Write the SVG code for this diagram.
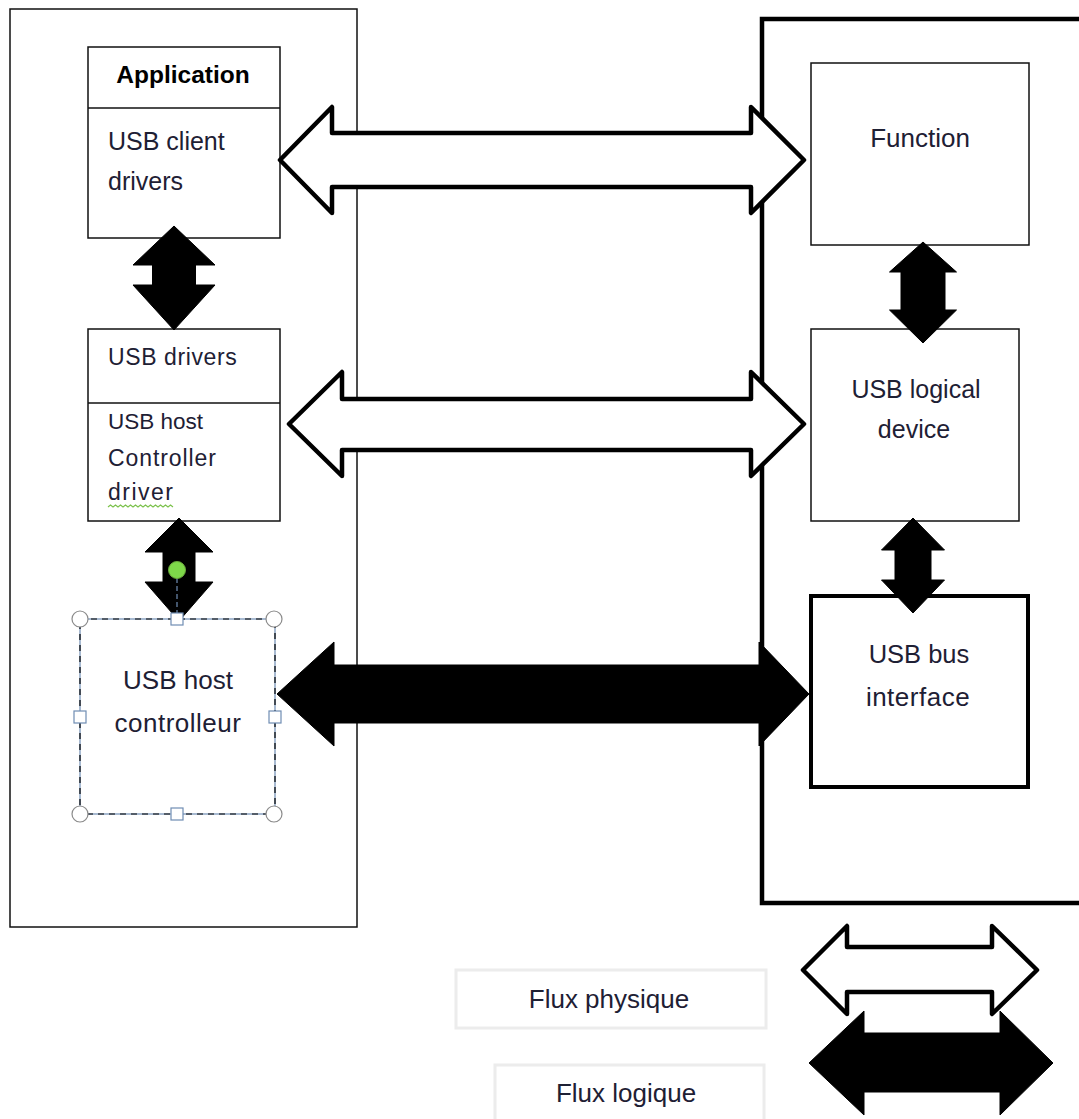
<svg xmlns="http://www.w3.org/2000/svg" width="1079" height="1119" viewBox="0 0 1079 1119">
  <style>
    .box { fill: #ffffff; stroke: #111111; stroke-width: 1.5; }
    .thick { fill: #ffffff; stroke: #000000; stroke-width: 4.5; }
    .legend { fill: #ffffff; stroke: #ececec; stroke-width: 3; }
    .txt { font-family: "Liberation Sans", Arial, sans-serif; fill: #1e2034; }
    .bold { font-family: "Liberation Sans", Arial, sans-serif; font-weight: bold; fill: #000000; }
    .hollow { fill: #ffffff; stroke: #000000; stroke-width: 4.5; stroke-linejoin: round; }
    .solid { fill: #000000; stroke: #000000; stroke-width: 1; stroke-linejoin: round; }
    .handleC { fill: #ffffff; stroke: #8a8a8a; stroke-width: 1.2; }
    .handleS { fill: #ffffff; stroke: #6f8db3; stroke-width: 1.2; }
  </style>

  <!-- Containers -->
  <g id="host-container">
    <rect class="box" x="10" y="9" width="347" height="918"/>
  </g>
  <g id="device-container">
    <rect class="thick" x="762" y="19" width="330" height="884"/>
  </g>

  <!-- Host side -->
  <g id="application">
    <rect class="box" x="88" y="47" width="192" height="191"/>
    <line x1="88" y1="108" x2="280" y2="108" stroke="#111" stroke-width="1.5"/>
    <text class="bold" x="183" y="83" font-size="24.5" text-anchor="middle">Application</text>
    <text class="txt" x="108" y="150" font-size="25">USB client</text>
    <text class="txt" x="108" y="190" font-size="25">drivers</text>
  </g>

  <g id="usb-drivers">
    <rect class="box" x="88" y="329" width="192" height="192"/>
    <line x1="88" y1="403" x2="280" y2="403" stroke="#111" stroke-width="1.5"/>
    <text class="txt" x="108" y="365" font-size="23" letter-spacing="0.6">USB drivers</text>
    <text class="txt" x="108" y="429" font-size="22.5">USB host</text>
    <text class="txt" x="108" y="466" font-size="23" letter-spacing="0.9">Controller</text>
    <text class="txt" x="108" y="500" font-size="23" letter-spacing="1.5">driver</text>
    <path d="M108,507 l2.5,-2 l2.5,2 l2.5,-2 l2.5,2 l2.5,-2 l2.5,2 l2.5,-2 l2.5,2 l2.5,-2 l2.5,2 l2.5,-2 l2.5,2 l2.5,-2 l2.5,2 l2.5,-2 l2.5,2 l2.5,-2 l2.5,2 l2.5,-2 l2.5,2 l2.5,-2 l2.5,2 l2.5,-2 l2.5,2 l2.5,-2 l2.5,2" fill="none" stroke="#7cc24c" stroke-width="1.2"/>
  </g>

  <g id="host-controller">
    <rect x="80" y="619" width="195" height="195" fill="#ffffff" stroke="#6f8db3" stroke-width="1.2"/>
    <rect x="80" y="619" width="195" height="195" fill="none" stroke="#000000" stroke-width="1.2" stroke-dasharray="6 5"/>
    <text class="txt" x="178" y="689" font-size="26" text-anchor="middle">USB host</text>
    <text class="txt" x="178" y="732" font-size="26" text-anchor="middle" letter-spacing="0.5">controlleur</text>
  </g>

  <!-- Device side -->
  <g id="function">
    <rect class="box" x="811" y="63" width="218" height="182"/>
    <text class="txt" x="920" y="147" font-size="26" text-anchor="middle">Function</text>
  </g>

  <g id="logical-device">
    <rect class="box" x="811" y="329" width="208" height="192"/>
    <text class="txt" x="916" y="398" font-size="25" text-anchor="middle">USB logical</text>
    <text class="txt" x="914" y="438" font-size="25" text-anchor="middle">device</text>
  </g>

  <g id="bus-interface">
    <rect x="811" y="596" width="217" height="191" fill="#ffffff" stroke="#000000" stroke-width="4"/>
    <text class="txt" x="919" y="663" font-size="25.5" text-anchor="middle">USB bus</text>
    <text class="txt" x="918" y="706" font-size="26" text-anchor="middle" letter-spacing="0.5">interface</text>
  </g>

  <!-- Legend -->
  <g id="legend-physique">
    <rect class="legend" x="456" y="970" width="310" height="58"/>
    <text class="txt" x="609" y="1008" font-size="26" text-anchor="middle">Flux physique</text>
  </g>
  <g id="legend-logique">
    <rect class="legend" x="495" y="1065" width="269" height="70"/>
    <text class="txt" x="626" y="1102" font-size="26" text-anchor="middle">Flux logique</text>
  </g>

  <!-- Connectors -->
  <g id="connectors">
    <!-- hollow horizontal flows -->
    <path class="hollow" d="M280,160 L332,107 L332,133 L751,133 L751,107 L804,160 L751,213 L751,187 L332,187 L332,213 Z"/>
    <path class="hollow" d="M289,424 L342,372 L342,399 L751,399 L751,372 L804,424 L751,476 L751,450 L342,450 L342,476 Z"/>
    <!-- solid horizontal flow -->
    <path class="solid" d="M277,694 L334,642 L334,665 L759,665 L759,642 L809,694 L759,746 L759,723 L334,723 L334,746 Z"/>
    <!-- vertical solid flows -->
    <path class="solid" d="M174,226 L215,265 L195.5,265 L195.5,285 L215,285 L174,330 L133,285 L152.5,285 L152.5,265 L133,265 Z"/>
    <path class="solid" d="M179,518 L213,552 L195,552 L195,582 L213,582 L179,621 L145,582 L163,582 L163,552 L145,552 Z"/>
    <path class="solid" d="M923,242 L956.5,272 L945,272 L945,310 L956.5,310 L923,343 L889.5,310 L901,310 L901,272 L889.5,272 Z"/>
    <path class="solid" d="M913,518 L944.5,550 L931,550 L931,580 L944.5,580 L913,613 L881.5,580 L895,580 L895,550 L881.5,550 Z"/>
    <!-- legend arrows -->
    <path class="hollow" d="M803,970 L847,926 L847,947 L992,947 L992,926 L1037,970 L992,1014 L992,992 L847,992 L847,1014 Z"/>
    <path class="solid" d="M809,1063 L864,1011 L864,1033 L1000,1033 L1000,1011 L1053,1063 L1000,1115 L1000,1092 L864,1092 L864,1115 Z"/>
  </g>

  <!-- Selection handles of host controller -->
  <g id="selection-handles">
    <line x1="177" y1="578" x2="177" y2="613" stroke="#6f8db3" stroke-width="1.2" stroke-dasharray="5 3"/>
    <circle cx="177" cy="570" r="8.5" fill="#7ed84a" stroke="#6aa83c" stroke-width="1"/>
    <circle class="handleC" cx="80" cy="619" r="8"/>
    <circle class="handleC" cx="274" cy="619" r="8"/>
    <circle class="handleC" cx="80" cy="814" r="8"/>
    <circle class="handleC" cx="274" cy="814" r="8"/>
    <rect class="handleS" x="171" y="613" width="12" height="12"/>
    <rect class="handleS" x="171" y="808" width="12" height="12"/>
    <rect class="handleS" x="74" y="711" width="12" height="12"/>
    <rect class="handleS" x="269" y="711" width="12" height="12"/>
  </g>
</svg>
